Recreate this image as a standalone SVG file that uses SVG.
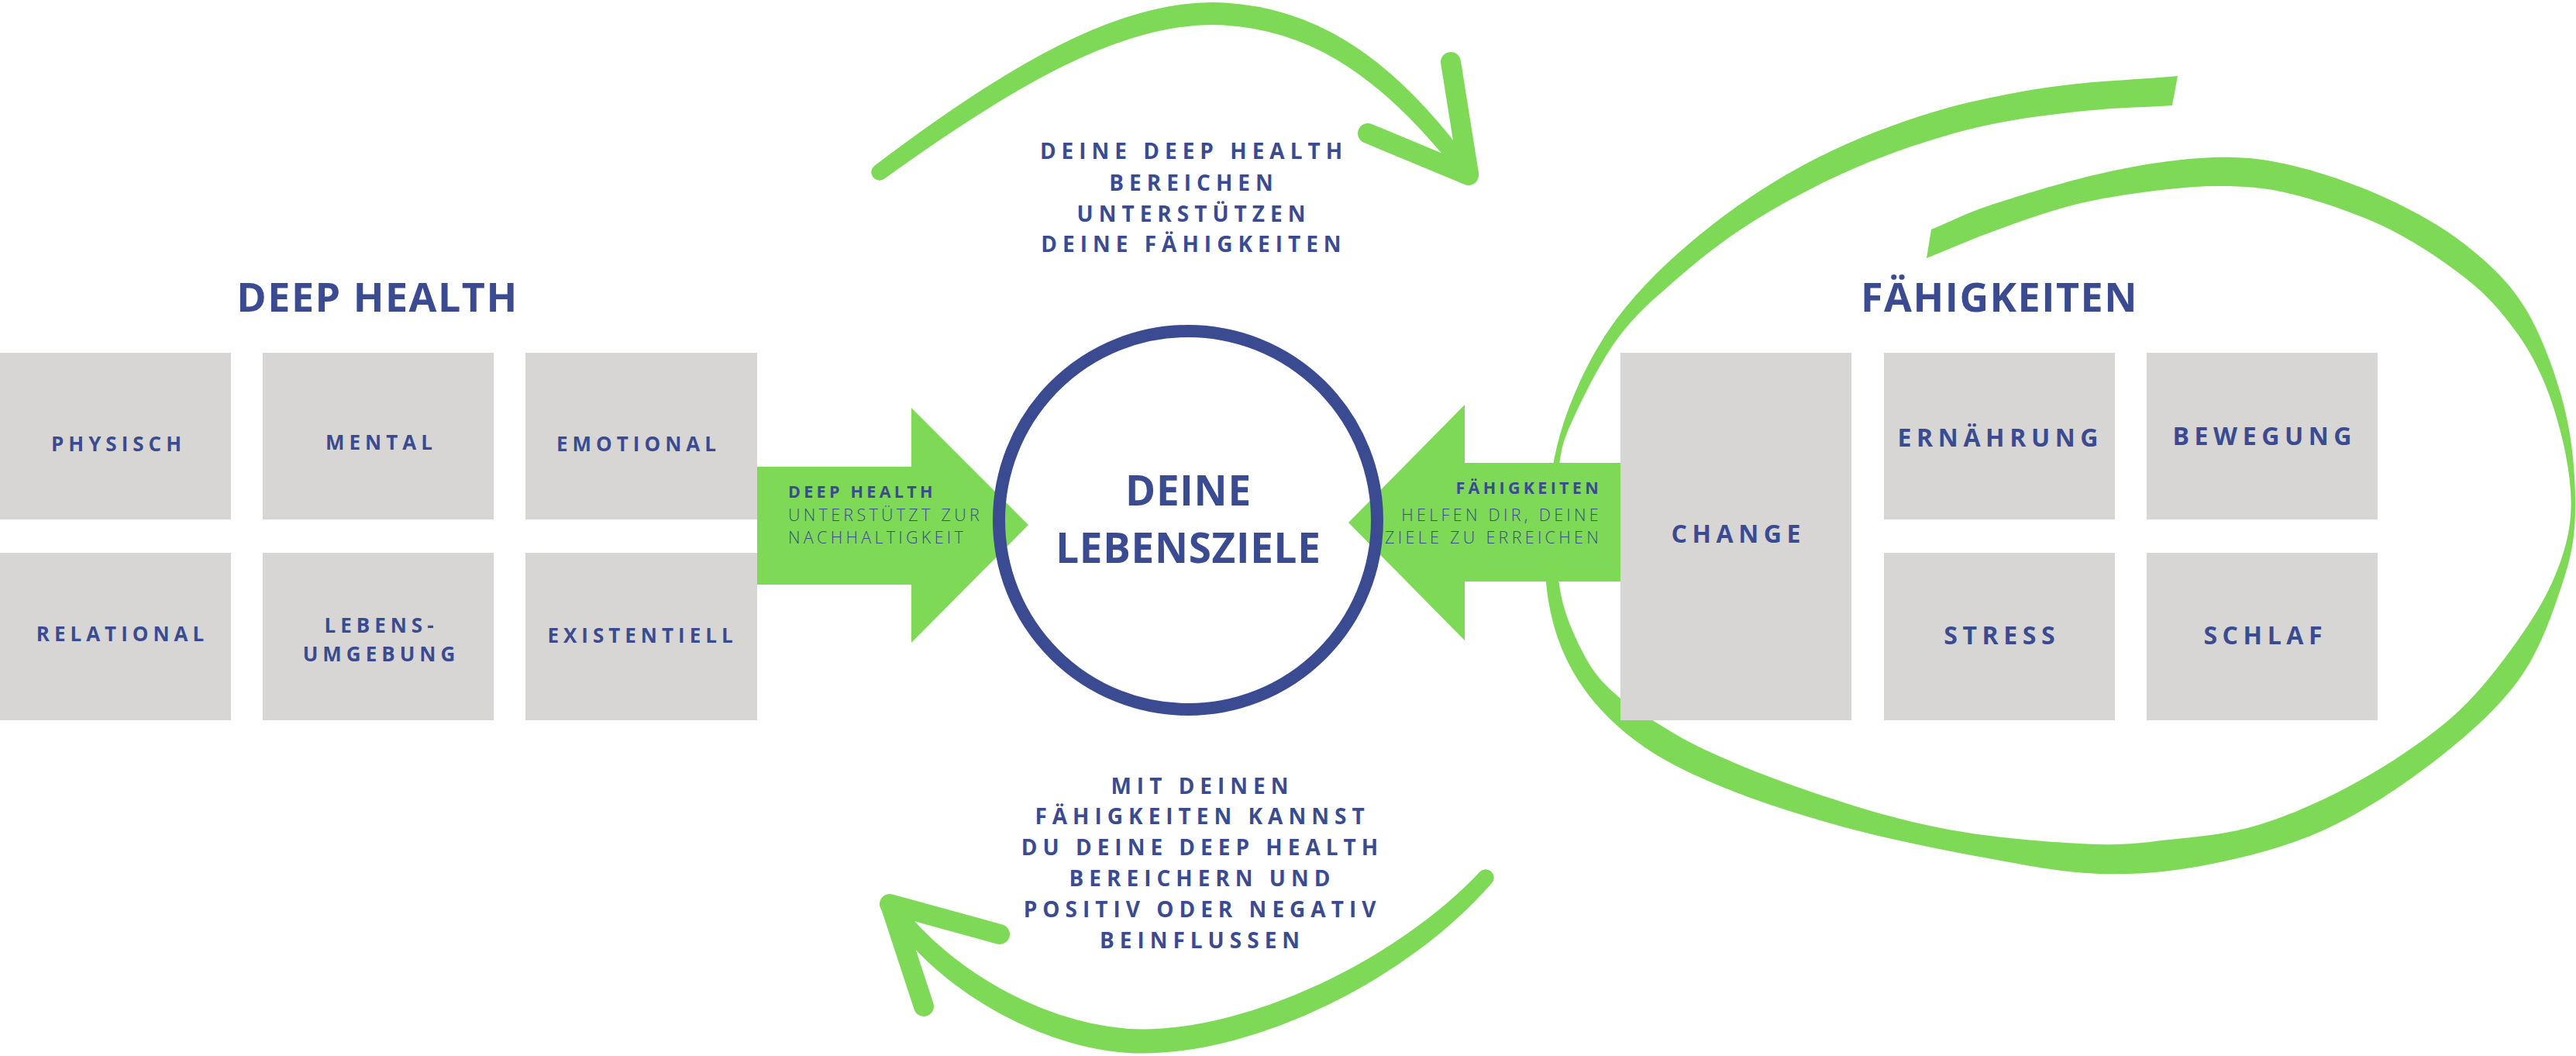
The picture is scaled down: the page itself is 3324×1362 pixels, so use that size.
<svg xmlns="http://www.w3.org/2000/svg" width="3324" height="1362" viewBox="0 0 3324 1362">
<style>
.bg{fill:#ffffff}
.box{fill:#D7D6D5}
.green{fill:#7ED957}
.brush{fill:none;stroke:#7ED957;stroke-linecap:round;stroke-linejoin:round}
.ring{fill:none;stroke:#3A4B91;stroke-width:16}
text{font-family:"Open Sans","Noto Sans","Liberation Sans",sans-serif;fill:#3A4B91}
.lbl{font-size:26px;font-weight:700;letter-spacing:6px;text-anchor:middle}
.lbl2{font-size:32px;font-weight:700;letter-spacing:6.6px;text-anchor:middle}
.head{font-size:52px;font-weight:700;letter-spacing:1.5px;text-anchor:middle}
.goal{font-size:53px;font-weight:700;letter-spacing:0.7px;text-anchor:middle}
.note{font-size:28px;font-weight:700;letter-spacing:7px;text-anchor:middle}
.ab{font-size:21.5px;font-weight:700;letter-spacing:4.3px}
.al{font-size:21.5px;font-weight:300;letter-spacing:4.3px}
</style>
<rect class="bg" x="0" y="0" width="3324" height="1362"/>

<!-- big spiral swirl around the Fähigkeiten group -->
<g id="swirl">
<path class="green" d="M 2803,136 L 2810,98
C 2753.3,103 2695,104.5 2640,113
C 2585,121.5 2532.2,132.3 2480,149
C 2427.8,165.7 2374.8,187.3 2327,213
C 2279.2,238.7 2233,270.2 2193,303
C 2153,335.8 2115.3,372.2 2087,410
C 2058.7,447.8 2038,490 2023,530
C 2008,570 2001.2,609.2 1997,650
C 1992.8,690.8 1991.7,737.5 1998,775
C 2004.3,812.5 2016.3,845 2035,875
C 2053.7,905 2079.2,931.8 2110,955
C 2140.8,978.2 2175,995.3 2220,1014
C 2265,1032.7 2323.3,1051.7 2380,1067
C 2436.7,1082.3 2505.2,1096 2560,1106
C 2614.8,1116 2660.7,1125.5 2709,1127
C 2757.3,1128.5 2801.5,1124.5 2850,1115
C 2898.5,1105.5 2951.5,1092.2 3000,1070
C 3048.5,1047.8 3099.3,1014.2 3141,982
C 3182.7,949.8 3222.7,914.5 3250,877
C 3277.3,839.5 3292.8,793.2 3305,757
C 3317.2,720.8 3322.2,697.8 3323,660
C 3323.8,622.2 3320.5,573.3 3310,530
C 3299.5,486.7 3281.2,435.5 3260,400
C 3238.8,364.5 3213,341 3183,317
C 3153,293 3117.2,273.2 3080,256
C 3042.8,238.8 2997.2,222.8 2960,214
C 2922.8,205.2 2896.5,201.8 2857,203
C 2817.5,204.2 2770.3,211 2723,221
C 2675.7,231 2611.5,250.5 2573,263
C 2534.5,275.5 2519,285 2492,296
L 2486,333
C 2515,321.3 2541.8,309.3 2573,298
C 2604.2,286.7 2639.7,273.5 2673,265
C 2706.3,256.5 2740.2,251.2 2773,247
C 2805.8,242.8 2838.8,239.3 2870,240
C 2901.2,240.7 2925,242 2960,251
C 2995,260 3042.8,275.8 3080,294
C 3117.2,312.2 3155.8,338.5 3183,360
C 3210.2,381.5 3226.3,400.8 3243,423
C 3259.7,445.2 3271.8,466.3 3283,493
C 3294.2,519.7 3304.3,554.3 3310,583
C 3315.7,611.7 3319,638.8 3317,665
C 3315,691.2 3308.3,714.7 3298,740
C 3287.7,765.3 3274.2,789.2 3255,817
C 3235.8,844.8 3208.8,881 3183,907
C 3157.2,933 3130.5,952.5 3100,973
C 3069.5,993.5 3033.3,1014.2 3000,1030
C 2966.7,1045.8 2933.5,1059.2 2900,1068
C 2866.5,1076.8 2830.8,1079.5 2799,1083
C 2767.2,1086.5 2748.8,1090 2709,1089
C 2669.2,1088 2604.8,1083 2560,1077
C 2515.2,1071 2482.5,1064.2 2440,1053
C 2397.5,1041.8 2345,1024.3 2305,1010
C 2265,995.7 2228.5,980.3 2200,967
C 2171.5,953.7 2153.7,942.3 2134,930
C 2114.3,917.7 2096.5,906.3 2082,893
C 2067.5,879.7 2058,869.7 2047,850
C 2036,830.3 2022.5,801.7 2016,775
C 2009.5,748.3 2008.7,719.2 2008,690
C 2007.3,660.8 2008.3,625 2012,600
C 2015.7,575 2017.5,567.2 2030,540
C 2042.5,512.8 2065.3,466.5 2087,437
C 2108.7,407.5 2131.2,388 2160,363
C 2188.8,338 2221.2,311.3 2260,287
C 2298.8,262.7 2346.3,237 2393,217
C 2439.7,197 2492.2,179.2 2540,167
C 2587.8,154.8 2636.2,149.2 2680,144
C 2723.8,138.8 2762,138.7 2803,136 Z"/>
</g>

<!-- connectors -->
<g id="connectors">
  <!-- block arrow: Deep Health -> Lebensziele -->
  <polygon id="arrow-deephealth" class="green" points="977,602 1176,602 1176,526 1327,677 1176,829 1176,754 977,754"/>
  <!-- block arrow: Fähigkeiten -> Lebensziele -->
  <polygon id="arrow-faehigkeiten" class="green" points="2091,597 1890,597 1890,522 1740,674 1890,826 1890,750 2091,750"/>
  <!-- curved arrow top: Deep Health -> Fähigkeiten -->
  <g id="arrow-top">
    <path class="brush" stroke-width="21" d="M 1135,222 C 1300,97 1450,6 1580,14 C 1680,20 1782,67 1893,222"/>
    <path class="brush" stroke-width="21" d="M 1135,222 C 1300,103 1450,14 1580,22 C 1680,28 1778,73 1893,222"/>
    <path class="brush" stroke-width="26" d="M 1872,80 L 1895,224"/>
    <path class="brush" stroke-width="26" d="M 1765,172 L 1895,226"/>
  </g>
  <!-- curved arrow bottom: Fähigkeiten -> Deep Health -->
  <g id="arrow-bottom">
    <path class="brush" stroke-width="21" d="M 1917,1132 C 1810,1245 1620,1338 1474,1338 C 1360,1338 1222,1266 1150,1168"/>
    <path class="brush" stroke-width="21" d="M 1917,1132 C 1810,1255 1620,1348 1474,1348 C 1360,1348 1218,1274 1150,1168"/>
    <path class="brush" stroke-width="26" d="M 1148,1166 L 1290,1205"/>
    <path class="brush" stroke-width="26" d="M 1150,1170 L 1192,1298"/>
  </g>
</g>

<!-- central goal node -->
<g id="node-lebensziele">
  <circle class="ring" cx="1533" cy="671" r="244"/>
  <text class="goal" x="1533.4" y="652">DEINE</text>
  <text class="goal" x="1533.4" y="726">LEBENSZIELE</text>
</g>

<!-- arrow labels -->
<g id="label-deephealth-arrow">
  <text class="ab" x="1017" y="642">DEEP HEALTH</text>
  <text class="al" x="1017" y="672">UNTERSTÜTZT ZUR</text>
  <text class="al" x="1017" y="701">NACHHALTIGKEIT</text>
</g>
<g id="label-faehigkeiten-arrow">
  <text class="ab" x="2067" y="637" text-anchor="end">FÄHIGKEITEN</text>
  <text class="al" x="2067" y="672" text-anchor="end">HELFEN DIR, DEINE</text>
  <text class="al" x="2067" y="701" text-anchor="end">ZIELE ZU ERREICHEN</text>
</g>

<!-- notes on curved arrows -->
<g id="note-top">
  <text class="note" x="1540.5" y="205">DEINE DEEP HEALTH</text>
  <text class="note" x="1540.5" y="246">BEREICHEN</text>
  <text class="note" x="1540.5" y="286">UNTERSTÜTZEN</text>
  <text class="note" x="1540.5" y="325">DEINE FÄHIGKEITEN</text>
</g>
<g id="note-bottom">
  <text class="note" x="1551.5" y="1024">MIT DEINEN</text>
  <text class="note" x="1551.5" y="1063">FÄHIGKEITEN KANNST</text>
  <text class="note" x="1551.5" y="1103">DU DEINE DEEP HEALTH</text>
  <text class="note" x="1551.5" y="1143">BEREICHERN UND</text>
  <text class="note" x="1551.5" y="1183">POSITIV ODER NEGATIV</text>
  <text class="note" x="1551.5" y="1223">BEINFLUSSEN</text>
</g>

<!-- Deep Health group -->
<g id="heading-deephealth"><text class="head" x="487" y="402">DEEP HEALTH</text></g>
<g id="node-physisch"><rect class="box" x="0" y="455" width="298" height="215"/><text class="lbl" x="153" y="582">PHYSISCH</text></g>
<g id="node-mental"><rect class="box" x="339" y="455" width="298" height="215"/><text class="lbl" x="492" y="580">MENTAL</text></g>
<g id="node-emotional"><rect class="box" x="678" y="455" width="299" height="215"/><text class="lbl" x="824" y="582">EMOTIONAL</text></g>
<g id="node-relational"><rect class="box" x="0" y="713" width="298" height="216"/><text class="lbl" x="158" y="827">RELATIONAL</text></g>
<g id="node-lebensumgebung"><rect class="box" x="339" y="713" width="298" height="216"/><text class="lbl" x="492" y="816">LEBENS-</text><text class="lbl" x="492" y="853">UMGEBUNG</text></g>
<g id="node-existentiell"><rect class="box" x="678" y="713" width="299" height="216"/><text class="lbl" x="829" y="829">EXISTENTIELL</text></g>

<!-- Fähigkeiten group -->
<g id="heading-faehigkeiten"><text class="head" x="2580" y="402">FÄHIGKEITEN</text></g>
<g id="node-change"><rect class="box" x="2091" y="455" width="298" height="474"/><text class="lbl2" x="2243.3" y="700">CHANGE</text></g>
<g id="node-ernaehrung"><rect class="box" x="2431" y="455" width="298" height="215"/><text class="lbl2" x="2581.3" y="576">ERNÄHRUNG</text></g>
<g id="node-bewegung"><rect class="box" x="2770" y="455" width="298" height="215"/><text class="lbl2" x="2922.3" y="574">BEWEGUNG</text></g>
<g id="node-stress"><rect class="box" x="2431" y="713" width="298" height="216"/><text class="lbl2" x="2583.3" y="831">STRESS</text></g>
<g id="node-schlaf"><rect class="box" x="2770" y="713" width="298" height="216"/><text class="lbl2" x="2923.3" y="831">SCHLAF</text></g>
</svg>
